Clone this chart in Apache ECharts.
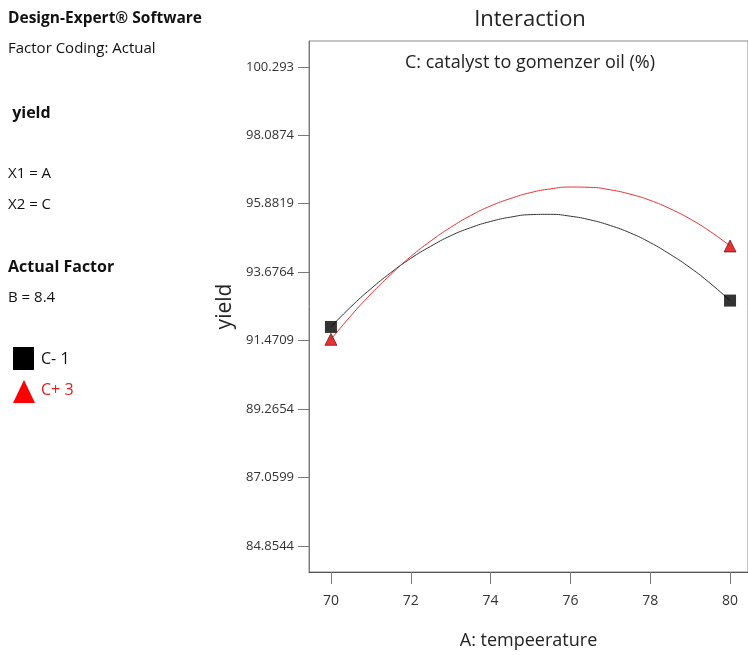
<!DOCTYPE html>
<html><head><meta charset="utf-8">
<script src="https://cdn.jsdelivr.net/npm/echarts@6/dist/echarts.min.js"></script>
<style>html,body{margin:0;padding:0;background:#fff}#c{width:748px;height:655px}</style>
</head><body><div id="c"></div>
<script>
const xValues = [70, 70.5, 71, 71.5, 72, 72.5, 73, 73.5, 74, 74.5, 75, 75.5, 76, 76.5, 77, 77.5, 78, 78.5, 79, 79.5, 80];
const cMinus1 = [91.91, 92.56, 93.14, 93.66, 94.12, 94.51, 94.85, 95.11, 95.31, 95.45, 95.53, 95.54, 95.48, 95.36, 95.18, 94.94, 94.63, 94.25, 93.82, 93.32, 92.76];
const cPlus3 = [91.51, 92.27, 92.97, 93.60, 94.18, 94.68, 95.12, 95.50, 95.81, 96.05, 96.24, 96.36, 96.42, 96.41, 96.33, 96.19, 95.99, 95.72, 95.39, 94.99, 94.52];
const designX = [70, 80];
const designCMinus1 = [91.91, 92.76];
const designCPlus3 = [91.51, 94.52];
const yTicks = [84.8544, 87.0599, 89.2654, 91.4709, 93.6764, 95.8819, 98.0874, 100.293];
const xTicks = [70, 72, 74, 76, 78, 80];
const yTickLabels = ['84.8544', '87.0599', '89.2654', '91.4709', '93.6764', '95.8819', '98.0874', '100.293'];

const FONT = '"Open Sans", "Noto Sans", sans-serif';
const chart = echarts.init(document.getElementById('c'), null, {renderer: 'canvas'});
const pair = (xs, ys) => xs.map((x, i) => [x, ys[i]]);

const leftTexts = [
  {t: 'Design-Expert® Software', y: 19, bold: true, size: 15.5},
  {t: 'Factor Coding: Actual', y: 49, size: 15},
  {t: ' yield', y: 113, bold: true, size: 16},
  {t: 'X1 = A', y: 174, size: 15},
  {t: 'X2 = C', y: 205, size: 15},
  {t: 'Actual Factor', y: 267, bold: true, size: 16},
  {t: 'B = 8.4', y: 298, size: 15}
];
const graphics = leftTexts.map(o => ({
  type: 'text', x: 8, y: o.y,
  style: {text: o.t, font: (o.bold ? 'bold ' : '') + o.size + 'px ' + FONT, fill: '#111', textVerticalAlign: 'middle'}
}));
graphics.push(
  {type: 'rect', shape: {x: 13, y: 347, width: 21, height: 23}, style: {fill: '#000'}},
  {type: 'text', x: 41, y: 359, style: {text: 'C- 1', font: '16px ' + FONT, fill: '#111', textVerticalAlign: 'middle'}},
  {type: 'polygon', shape: {points: [[24, 380], [35, 403], [13, 403]]}, style: {fill: '#ff0000'}},
  {type: 'text', x: 41, y: 390, style: {text: 'C+ 3', font: '16px ' + FONT, fill: '#e02020', textVerticalAlign: 'middle'}},
  {type: 'text', x: 530, y: 20, style: {text: 'Interaction', font: '22px ' + FONT, fill: '#222', textAlign: 'center', textVerticalAlign: 'middle'}},
  {type: 'text', x: 530, y: 63, style: {text: 'C: catalyst to gomenzer oil (%)', font: '18px ' + FONT, fill: '#222', textAlign: 'center', textVerticalAlign: 'middle'}}
);

chart.setOption({
  animation: false,
  backgroundColor: '#fff',
  graphic: graphics,
  grid: {left: 309, top: 41, right: -5, bottom: 81, show: true, borderColor: '#888', borderWidth: 1, containLabel: false},
  xAxis: {
    type: 'value', min: 69.45, max: 80.45,
    name: 'A: tempeerature', nameLocation: 'middle', nameGap: 60,
    nameTextStyle: {fontFamily: FONT, fontSize: 18, color: '#222'},
    axisLine: {show: true, lineStyle: {color: '#555'}},
    axisTick: {show: true, length: 12, customValues: xTicks, lineStyle: {color: '#777'}},
    axisLabel: {customValues: xTicks, fontFamily: FONT, fontSize: 14, color: '#333', margin: 22},
    splitLine: {show: false}
  },
  yAxis: {
    type: 'value', min: 84.011, max: 101.127,
    name: 'yield', nameLocation: 'middle', nameGap: 60, nameRotate: 90,
    nameTextStyle: {fontFamily: FONT, fontSize: 21, color: '#222'},
    axisLine: {show: true, lineStyle: {color: '#777'}},
    axisTick: {show: true, length: 11, customValues: yTicks, lineStyle: {color: '#777'}},
    axisLabel: {customValues: yTicks, fontFamily: FONT, fontSize: 13, color: '#333', margin: 15,
      formatter: v => { const i = yTicks.findIndex(t => Math.abs(t - v) < 1e-3); return i >= 0 ? yTickLabels[i] : ''; }},
    splitLine: {show: false}
  },
  series: [
    {type: 'line', data: pair(xValues, cMinus1), smooth: true, showSymbol: false, lineStyle: {color: '#333', width: 1}, z: 2},
    {type: 'line', data: pair(xValues, cPlus3), smooth: true, showSymbol: false, lineStyle: {color: '#e83030', width: 1}, z: 3},
    {type: 'scatter', data: pair(designX, designCMinus1), symbol: 'rect', symbolSize: 12, itemStyle: {color: '#000'}, z: 4},
    {type: 'scatter', data: pair(designX, designCPlus3), symbol: 'triangle', symbolSize: 12, itemStyle: {color: '#e00000', borderColor: '#500', borderWidth: 0.8}, z: 5}
  ]
});
</script></body></html>
